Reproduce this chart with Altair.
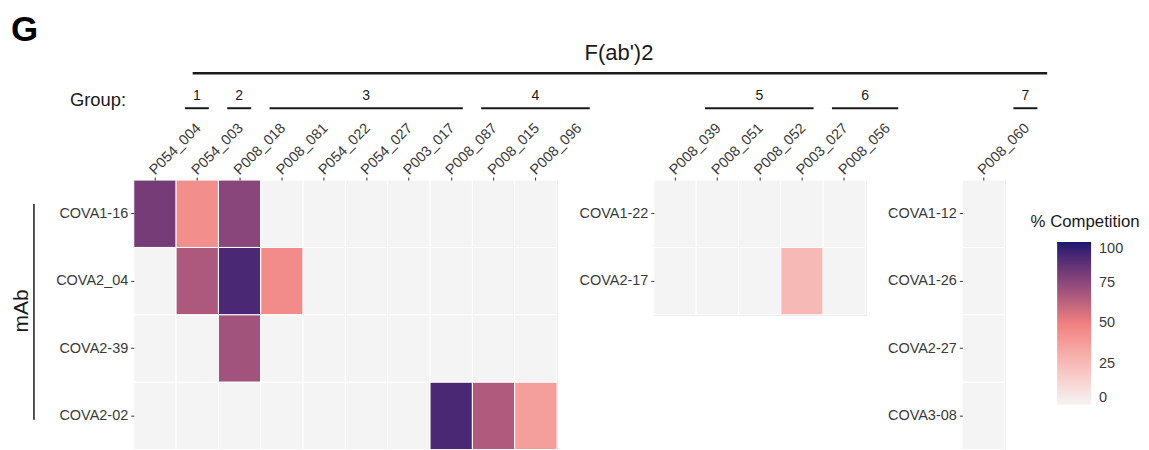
import altair as alt
import pandas as pd

# ---------------- data ----------------
left_samples = ["P054_004", "P054_003", "P008_018", "P008_081", "P054_022",
                "P054_027", "P003_017", "P008_087", "P008_015", "P008_096"]
left_mabs = ["COVA1-16", "COVA2_04", "COVA2-39", "COVA2-02"]
left_values = [
    [81, 44, 76, 0, 0, 0, 0, 0, 0, 0],
    [0, 67, 91, 45, 0, 0, 0, 0, 0, 0],
    [0, 0, 70, 0, 0, 0, 0, 0, 0, 0],
    [0, 0, 0, 0, 0, 0, 0, 91, 66, 37],
]
left_groups = [("1", ["P054_004"]), ("2", ["P054_003"]),
               ("3", ["P008_018", "P008_081", "P054_022", "P054_027", "P003_017"]),
               ("4", ["P008_087", "P008_015", "P008_096"])]

mid_samples = ["P008_039", "P008_051", "P008_052", "P003_027", "P008_056"]
mid_mabs = ["COVA1-22", "COVA2-17"]
mid_values = [
    [0, 0, 0, 0, 0],
    [0, 0, 0, 26, 0],
]
mid_groups = [("5", ["P008_039", "P008_051", "P008_052"]),
              ("6", ["P003_027", "P008_056"])]

right_samples = ["P008_060"]
right_mabs = ["COVA1-12", "COVA1-26", "COVA2-27", "COVA3-08"]
right_values = [[0], [0], [0], [0]]
right_groups = [("7", ["P008_060"])]

legend_values = [0, 25, 50, 75, 100]
color_stops = [0, 50, 100]
color_range = ["#F4F4F4", "#F08080", "#191970"]

# ---------------- style ----------------
FONT = "Liberation Sans, Arial, Helvetica, sans-serif"
STEP = 42.4
ROW = 67.5
LABEL_COLOR = "#3A3A3A"
INK = "#1A1A1A"
AXIS_FS = 14.5

color_scale = alt.Scale(domain=color_stops, range=color_range, interpolate="lab")


def grid_df(mabs, samples, vals):
    rows = []
    for i, m in enumerate(mabs):
        for j, s in enumerate(samples):
            rows.append({"mab": m, "sample": s, "value": vals[i][j]})
    return pd.DataFrame(rows)


def x_enc(field, samples):
    return alt.X(
        f"{field}:N", sort=samples,
        scale=alt.Scale(domain=samples, paddingInner=0, paddingOuter=0),
        axis=alt.Axis(orient="top", title=None, labelAngle=315, labelAlign="left",
                      labelBaseline="alphabetic", labelFont=FONT, labelFontSize=AXIS_FS,
                      labelColor=LABEL_COLOR, labelPadding=2, tickSize=3,
                      tickColor="#333333", tickWidth=1, domain=False, grid=False),
    )


def y_enc(mabs):
    return alt.Y(
        "mab:N", sort=mabs,
        scale=alt.Scale(domain=mabs, paddingInner=0, paddingOuter=0),
        axis=alt.Axis(title=None, labelFont=FONT, labelFontSize=AXIS_FS,
                      labelColor=LABEL_COLOR, labelPadding=3, tickSize=3,
                      tickColor="#333333", tickWidth=1, domain=False, grid=False,
                      labelExpr="datum.label == 'COVA2-39' ? 'COVA2-39\u00a0' : datum.label"),
    )


def panel(mabs, samples, vals, groups, legend=None, extra=()):
    df = grid_df(mabs, samples, vals)
    heat = alt.Chart(df).mark_rect(stroke="white", strokeWidth=1).encode(
        x=x_enc("sample", samples),
        y=y_enc(mabs),
        color=alt.Color("value:Q", scale=color_scale, legend=legend),
    )
    gdf = pd.DataFrame({
        "group": [g for g, _ in groups],
        "first": [m[0] for _, m in groups],
        "last": [m[-1] for _, m in groups],
    })
    bars = alt.Chart(gdf).mark_rule(strokeWidth=2, color=INK, xOffset=30, x2Offset=54).encode(
        x=x_enc("first", samples), x2="last:N", y=alt.value(-72))
    labels = []
    for k, (g, members) in enumerate(groups):
        n = len(members)
        labels.append(
            alt.Chart(gdf.iloc[[k]]).mark_text(
                dx=42 + (n - 1) * STEP / 2, font=FONT, fontSize=14, color=INK,
                align="center", baseline="middle").encode(
                x=x_enc("first", samples), y=alt.value(-84), text="group:N"))
    return alt.layer(heat, bars, *labels, *extra).properties(
        width=len(samples) * STEP, height=len(mabs) * ROW)


def txt(s, x, y, **kw):
    return alt.Chart(pd.DataFrame({"t": [s]})).mark_text(font=FONT, **kw).encode(
        x=alt.value(x), y=alt.value(y), text="t:N")


annotations = [
    txt("G", -123, -139, fontSize=35, fontWeight="bold", color="#000000",
        align="left", baseline="alphabetic"),
    txt("F(ab')2", 486, -120, fontSize=22, color=INK, align="center", baseline="alphabetic"),
    alt.Chart(pd.DataFrame({"a": [0]})).mark_rule(strokeWidth=2.5, color=INK).encode(
        x=alt.value(59), x2=alt.value(915), y=alt.value(-107)),
    txt("Group:", -64, -80, fontSize=18.4, color=INK, align="left", baseline="middle"),
    txt("mAb", -112, 131, fontSize=21, color=INK, align="center", baseline="middle", angle=270),
    alt.Chart(pd.DataFrame({"a": [0]})).mark_rule(strokeWidth=1.5, color=INK).encode(
        x=alt.value(-100), y=alt.value(24), y2=alt.value(240)),
    txt("% Competition", 953, 42, fontSize=16.8, color=INK, align="center", baseline="middle"),
]

legend = alt.Legend(orient="none", legendX=925, legendY=62, title=None,
                    direction="vertical", gradientLength=163, gradientThickness=34,
                    gradientStrokeWidth=0, values=legend_values, labelFont=FONT,
                    labelFontSize=AXIS_FS, labelColor=LABEL_COLOR, labelOffset=8)

left = panel(left_mabs, left_samples, left_values, left_groups, legend=legend, extra=annotations)
mid = panel(mid_mabs, mid_samples, mid_values, mid_groups, legend=None)
right = panel(right_mabs, right_samples, right_values, right_groups, legend=None)

chart = alt.hconcat(left, mid, right, spacing=97, bounds="flush").properties(
    padding={"left": 2, "top": 4, "right": 0, "bottom": 0}
).configure_view(stroke=None).configure(background="white")

chart.save("out.html", embed_options={"renderer": "svg", "actions": False})
